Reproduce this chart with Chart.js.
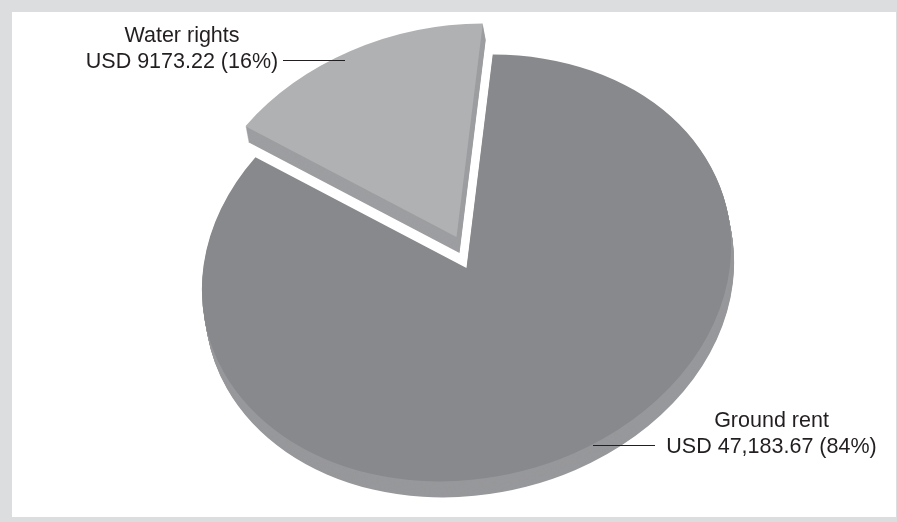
<!DOCTYPE html>
<html><head><meta charset="utf-8">
<script src="https://cdn.jsdelivr.net/npm/chart.js@4.4.1/dist/chart.umd.min.js"></script>
<style>
html,body{margin:0;padding:0;background:#dcdddf;width:897px;height:522px;overflow:hidden;}
#panel{position:absolute;left:12px;top:12px;width:884px;height:505px;background:#fff;}
#wrap{position:absolute;left:0;top:0;width:897px;height:522px;}
</style></head><body>
<div id="panel"></div>
<div id="wrap"><canvas id="c" width="897" height="522"></canvas></div>
<script>
// ---- data ----
const categories = ['Water rights', 'Ground rent'];
const values = [9173.22, 47183.67];
const valueLabels = ['USD 9173.22 (16%)', 'USD 47,183.67 (84%)'];
const exploded = [true, false];

// ---- style ----
const topColors = ['#b0b1b3', '#88898c'];
const sideColors = ['#9d9ea1', '#97989b'];
const VIEW = {cx: 466.5, cy: 268, tilt: -0.218, squash: 0.788, depth: 16, depthDx: 3, explodeDx: -10, explodeDy: -31};
const LABELS = [
  {x: 182, y1: 42, y2: 68, line: [283, 60.5, 345, 60.5]},
  {x: 771.5, y1: 427, y2: 453, line: [593, 445.5, 655, 445.5]}
];
const TEXT_COLOR = '#231f20';

const pie3d = {
  id: 'pie3d',
  beforeDatasetsDraw(chart) {
    const ctx = chart.ctx;
    const arcs = chart.getDatasetMeta(0).data;
    const ox = arcs[0].x, oy = arcs[0].y;
    const place = (i, sx, sy) => {
      const ex = exploded[i] ? VIEW.explodeDx : 0, ey = exploded[i] ? VIEW.explodeDy : 0;
      ctx.translate(VIEW.cx + sx + ex, VIEW.cy + sy + ey);
      ctx.rotate(VIEW.tilt);
      ctx.scale(1, VIEW.squash);
      ctx.translate(-ox, -oy);
    };
    const drawWith = (arc, color) => {
      const opts = Object.create(arc.options);
      Object.defineProperty(opts, 'backgroundColor', {value: color});
      const proxy = Object.create(arc);
      Object.defineProperty(proxy, 'options', {value: opts, writable: true});
      arc.draw.call(proxy, ctx);
    };
    arcs.forEach((arc, i) => {
      for (let k = VIEW.depth; k >= 1; k--) {
        ctx.save(); place(i, VIEW.depthDx * k / VIEW.depth, k); drawWith(arc, sideColors[i]); ctx.restore();
      }
    });
    arcs.forEach((arc, i) => { ctx.save(); place(i, 0, 0); arc.draw(ctx); ctx.restore(); });
    return false;
  },
  afterDraw(chart) {
    const ctx = chart.ctx;
    ctx.save();
    ctx.fillStyle = TEXT_COLOR;
    ctx.strokeStyle = TEXT_COLOR;
    ctx.font = '21.5px "Liberation Sans", Arial, sans-serif';
    ctx.textAlign = 'center';
    ctx.textBaseline = 'alphabetic';
    ctx.lineWidth = 1.2;
    LABELS.forEach((l, i) => {
      ctx.fillText(categories[i], l.x, l.y1);
      ctx.fillText(valueLabels[i], l.x, l.y2);
      ctx.beginPath(); ctx.moveTo(l.line[0], l.line[1]); ctx.lineTo(l.line[2], l.line[3]); ctx.stroke();
    });
    ctx.restore();
  }
};

new Chart(document.getElementById('c'), {
  type: 'pie',
  data: {labels: categories, datasets: [{data: values, backgroundColor: topColors, borderWidth: 0}]},
  options: {
    responsive: false, animation: false, events: [],
    rotation: -43, radius: 267,
    plugins: {legend: {display: false}, tooltip: {enabled: false}}
  },
  plugins: [pie3d]
});
</script></body></html>
